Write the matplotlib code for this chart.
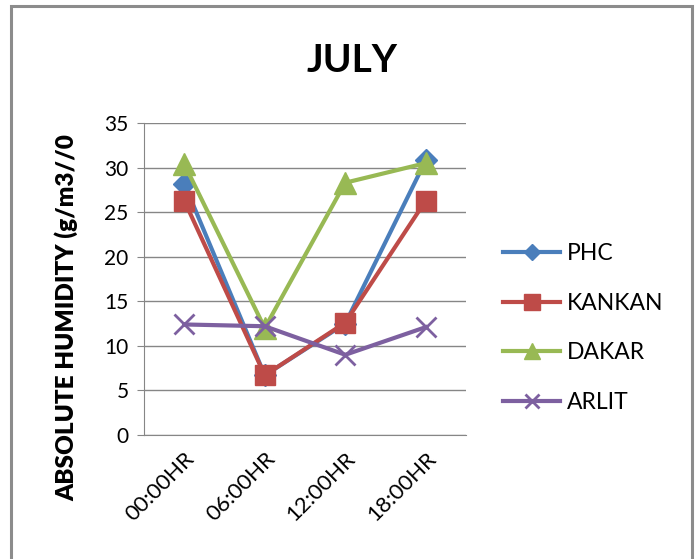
import matplotlib.pyplot as plt
from matplotlib.patches import Rectangle

# Data
times = ['00:00HR', '06:00HR', '12:00HR', '18:00HR']
phc = [28.2, 6.7, 12.5, 30.8]
kankan = [26.3, 6.7, 12.6, 26.3]
dakar = [30.4, 12.0, 28.3, 30.5]
arlit = [12.4, 12.2, 9.0, 12.1]

plt.rcParams['font.family'] = ['Lato', 'DejaVu Sans']

fig = plt.figure(figsize=(6.97, 5.59), dpi=100)
ax = fig.add_axes([144/697, 1 - 435/559, 322/697, 312/559])

# outer chart border (bottom edge is cut off in the reference)
fig.patches.append(Rectangle((11/697, -0.05), 681/697, 1.05 - 6/559,
                             transform=fig.transFigure, fill=False,
                             edgecolor='#8c8c8c', linewidth=2.2))

x = range(len(times))
ax.plot(x, phc, color='#4A7EBB', lw=3, marker='D', ms=11, label='PHC')
ax.plot(x, kankan, color='#BE4B48', lw=3, marker='s', ms=15, label='KANKAN')
ax.plot(x, dakar, color='#98B954', lw=3, marker='^', ms=16, label='DAKAR')
ax.plot(x, arlit, color='#7D60A0', lw=3, marker='x', ms=14, mew=2,
        label='ARLIT')

ax.set_xlim(-0.5, 3.5)
ax.set_ylim(0, 35)
ax.set_yticks(range(0, 36, 5))
ax.set_xticks(list(x))
ax.set_xticklabels(times, rotation=45, ha='right', rotation_mode='anchor')

ax.grid(axis='y', color='#868686', lw=1)
ax.set_axisbelow(True)
for s in ['top', 'right']:
    ax.spines[s].set_visible(False)
for s in ['left', 'bottom']:
    ax.spines[s].set_color('#868686')
ax.tick_params(axis='y', direction='out', length=5, color='#868686',
               labelsize=15, pad=6)
ax.tick_params(axis='x', length=0, labelsize=16, pad=10)

fig.text(352/697, 1 - 60/559, 'JULY', ha='center', va='center',
         fontsize=28, fontweight='bold')
fig.text(66/697, 1 - 318/559, 'ABSOLUTE HUMIDITY (g/m3//0', rotation=90,
         ha='center', va='center', fontsize=17.5, fontweight='heavy')

fig.legend(loc='center left', bbox_to_anchor=(503/697, 1 - 328/559),
           frameon=False, fontsize=16.5, handlelength=2.5, handletextpad=0.3,
           labelspacing=1.25, borderpad=0, borderaxespad=0, markerscale=0.75)

fig.savefig('out.png', dpi=100)
